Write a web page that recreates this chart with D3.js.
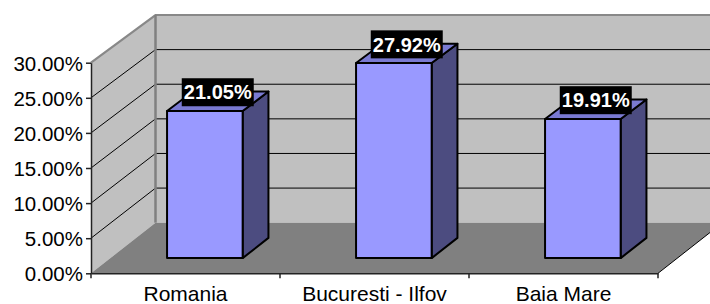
<!DOCTYPE html>
<html><head><meta charset="utf-8">
<script src="https://cdn.jsdelivr.net/npm/d3@7"></script>
<style>html,body{margin:0;padding:0;background:#fff;}svg{display:block;font-family:"Liberation Sans",Arial,sans-serif;}</style>
</head><body>
<svg id="chart" width="710" height="304"></svg>
<script>
const categories = ["Romania", "Bucuresti - Ilfov", "Baia Mare"];
const values = [21.05, 27.92, 19.91];
const tickValues = [0, 5, 10, 15, 20, 25, 30];
const tickLabels = ["0.00%", "5.00%", "10.00%", "15.00%", "20.00%", "25.00%", "30.00%"];

const svg = d3.select("#chart");
const W = 710, H = 304;
const X0 = 91, X1 = 658, DX = 64.5;
const x = d3.scaleBand().domain(categories).range([X0, X1]).padding(0);
const yF = d3.scaleLinear().domain([0, 30]).range([273.3, 62.7]);
const yB = d3.scaleLinear().domain([0, 30]).range([222.7, 15]);
const P = (xf, v, t) => [xf + t * DX, (1 - t) * yF(v) + t * yB(v)];
const poly = pts => "M" + pts.map(p => p.join(",")).join("L") + "Z";

svg.append("defs").append("clipPath").attr("id", "clip")
  .append("rect").attr("x", 0).attr("y", 0).attr("width", W).attr("height", H);
const g = svg.append("g").attr("clip-path", "url(#clip)");

// back wall
g.append("path").attr("d", poly([P(X0, 0, 1), P(X0, 30, 1), P(X1, 30, 1), P(X1, 0, 1)])).attr("fill", "#c0c0c0");
// left wall
g.append("path").attr("d", poly([P(X0, 0, 0), P(X0, 30, 0), P(X0, 30, 1), P(X0, 0, 1)])).attr("fill", "#c0c0c0");
// floor
g.append("path").attr("d", poly([P(X0, 0, 0), P(X1, 0, 0), P(X1, 0, 1), P(X0, 0, 1)])).attr("fill", "#808080");

// gridlines
tickValues.filter(v => v > 0 && v < 30).forEach(v => {
  g.append("path").attr("d", "M" + [P(X0, v, 0), P(X0, v, 1), P(X1, v, 1)].map(p => p.join(",")).join("L"))
    .attr("fill", "none").attr("stroke", "#000").attr("stroke-width", 1);
});
// wall edges
g.append("path").attr("d", "M" + [P(X0, 30, 0), P(X0, 30, 1), P(X1, 30, 1)].map(p => p.join(",")).join("L"))
  .attr("fill", "none").attr("stroke", "#888").attr("stroke-width", 2.2);
g.append("path").attr("d", "M" + [P(X0, 0, 1), P(X0, 30, 1)].map(p => p.join(",")).join("L"))
  .attr("fill", "none").attr("stroke", "#808080").attr("stroke-width", 2.5);
// floor right edge
g.append("path").attr("d", "M" + [P(X1, 0, 0), P(X1, 0, 1)].map(p => p.join(",")).join("L"))
  .attr("fill", "none").attr("stroke", "#000").attr("stroke-width", 1);

// axes
const yAxis = d3.axisLeft(yF).tickValues(tickValues).tickFormat((d, i) => tickLabels[i]).tickSize(5).tickSizeOuter(0);
const ya = svg.append("g").attr("transform", `translate(${X0},0)`).call(yAxis);
ya.select(".domain").attr("stroke", "#222").attr("stroke-width", 1.5);
ya.selectAll(".tick line").attr("stroke", "#222").attr("stroke-width", 1.5);
ya.selectAll(".tick text").attr("font-size", 20.5).attr("font-family", "Liberation Sans, Arial, sans-serif").attr("fill", "#000").attr("x", -8).attr("dy", "0.36em");

const xa = svg.append("g").attr("transform", `translate(0,${yF(0)})`).call(d3.axisBottom(x).tickSize(0).tickSizeOuter(0));
xa.select(".domain").attr("stroke", "#222").attr("stroke-width", 1.5);
xa.selectAll(".tick text").attr("font-size", 21).attr("font-family", "Liberation Sans, Arial, sans-serif").attr("fill", "#000").attr("y", 13).attr("dy", "0.71em");
const bounds = categories.map(c => x(c) + x.bandwidth()).concat([X0]);
xa.selectAll(".bound").data(bounds).enter().append("line").attr("class", "bound")
  .attr("x1", d => d).attr("x2", d => d).attr("y1", 0).attr("y2", 5).attr("stroke", "#222").attr("stroke-width", 1.5);

// bars
const bw = x.bandwidth() * 0.4, t0 = 0.3, t1 = 0.7;
const bars = g.append("g");
categories.forEach((c, i) => {
  const v = values[i];
  const a = x(c) + x.bandwidth() * 0.3, b = a + bw;
  bars.append("path").attr("d", poly([P(b, 0, t0), P(b, 0, t1), P(b, v, t1), P(b, v, t0)]))
    .attr("fill", "#4c4c80").attr("stroke", "#000").attr("stroke-width", 2).attr("stroke-linejoin", "round");
  bars.append("path").attr("d", poly([P(a, v, t0), P(b, v, t0), P(b, v, t1), P(a, v, t1)]))
    .attr("fill", "#7a7ad2").attr("stroke", "#000").attr("stroke-width", 2).attr("stroke-linejoin", "round");
  bars.append("path").attr("d", poly([P(a, 0, t0), P(b, 0, t0), P(b, v, t0), P(a, v, t0)]))
    .attr("fill", "#9999ff").attr("stroke", "#000").attr("stroke-width", 2).attr("stroke-linejoin", "round");
});

// labels
const labels = svg.append("g");
categories.forEach((c, i) => {
  const v = values[i];
  const cp = P(x(c) + x.bandwidth() / 2, v, 0.5);
  const cx = cp[0], cy = cp[1] - 9;
  labels.append("rect").attr("x", cx - 36).attr("y", cy - 14).attr("width", 72).attr("height", 28).attr("fill", "#000");
  labels.append("text").attr("x", cx).attr("y", cy).attr("dy", "0.36em").attr("text-anchor", "middle")
    .attr("font-size", 20).attr("font-weight", "bold").attr("fill", "#fff").text(d3.format(".2f")(v) + "%");
});
</script>
</body></html>
